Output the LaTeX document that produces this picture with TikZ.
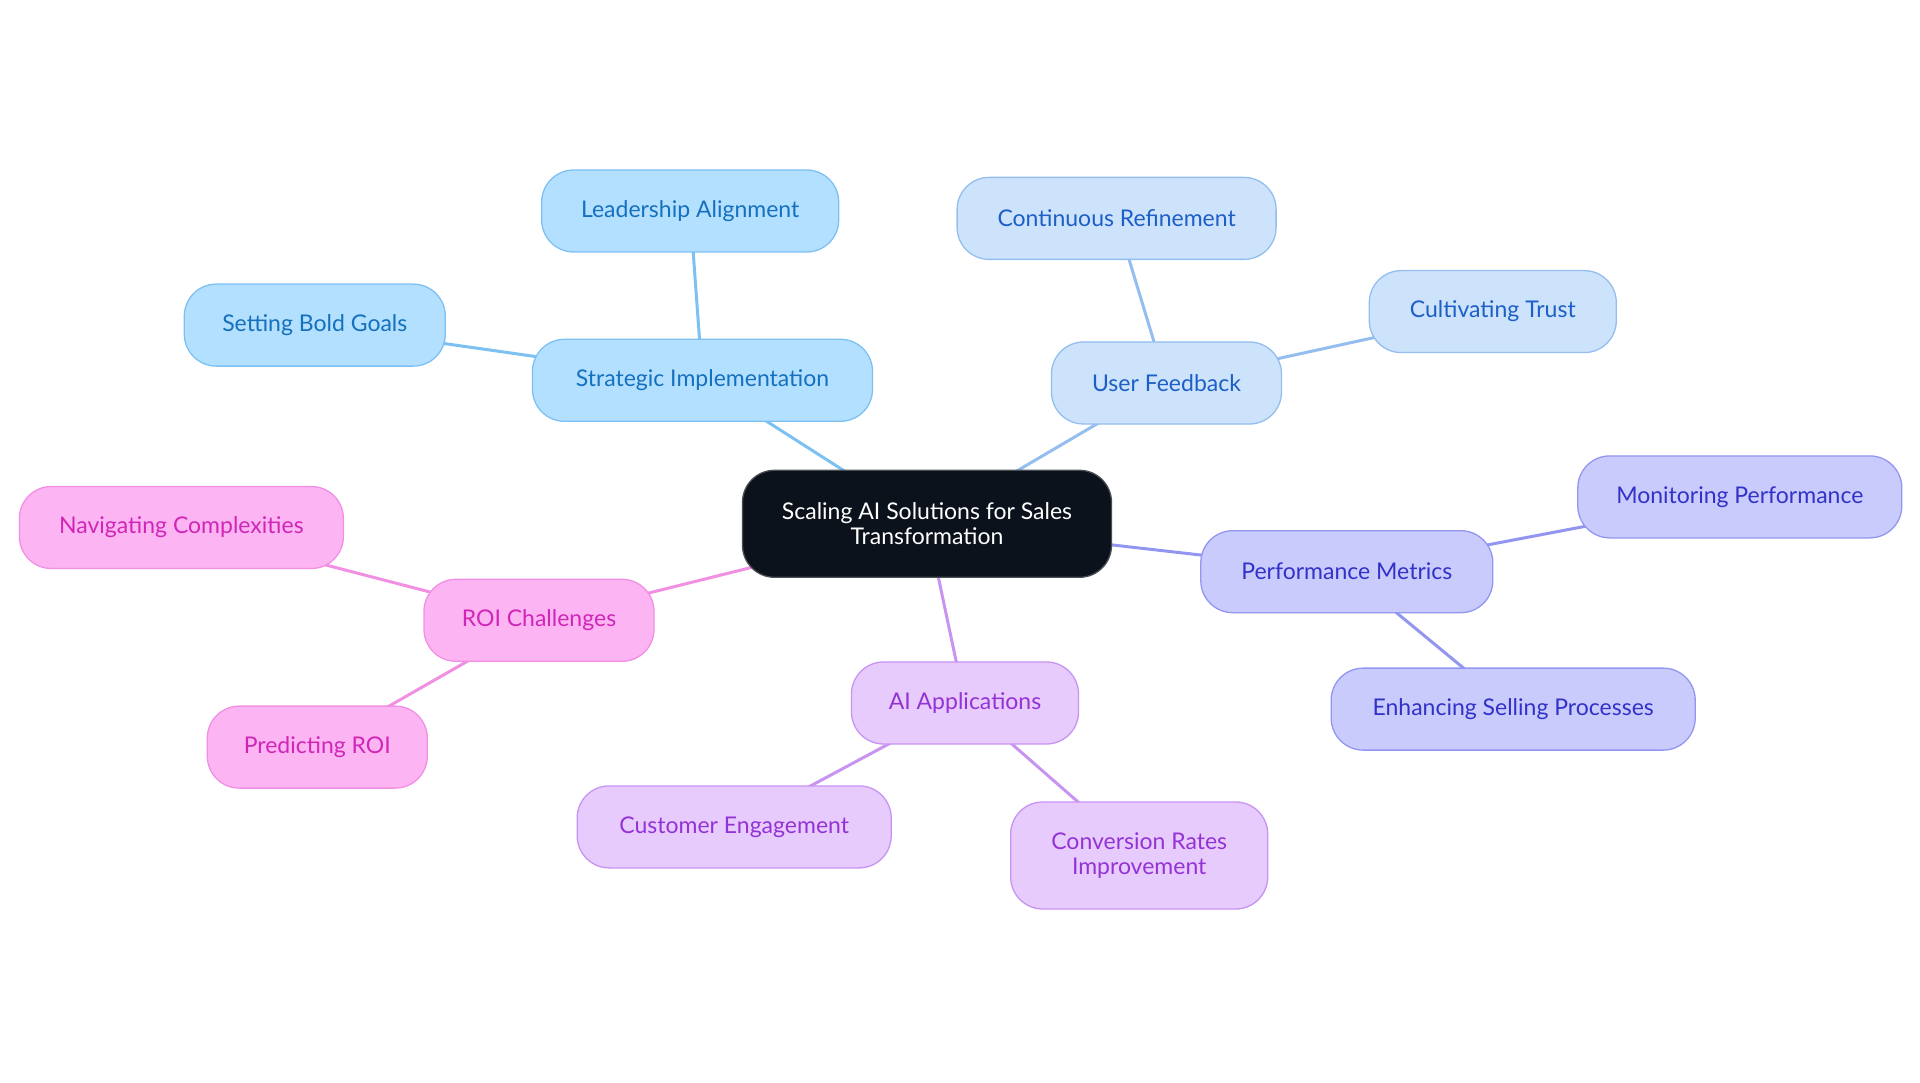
\documentclass[tikz,border=0pt]{standalone}
\usepackage{fontspec}
\setmainfont{Lato}
\usetikzlibrary{backgrounds}
\definecolor{cfill}{HTML}{0B121B}
\definecolor{cline}{HTML}{4A4F55}
\definecolor{bAfill}{HTML}{B3E0FF}
\definecolor{bAline}{HTML}{7DC1F2}
\definecolor{bAtext}{HTML}{1570BE}
\definecolor{bBfill}{HTML}{CCE3FB}
\definecolor{bBline}{HTML}{93BEEF}
\definecolor{bBtext}{HTML}{1D5FC6}
\definecolor{inFill}{HTML}{C9CBFD}
\definecolor{inLine}{HTML}{9396F1}
\definecolor{inText}{HTML}{3232C8}
\definecolor{puFill}{HTML}{E8CBFD}
\definecolor{puLine}{HTML}{C894F1}
\definecolor{puText}{HTML}{9333D6}
\definecolor{piFill}{HTML}{FDB4F2}
\definecolor{piLine}{HTML}{F190E3}
\definecolor{piText}{HTML}{D026B8}
\newcommand{\lblfont}{\fontsize{23}{25}\selectfont}
\tikzset{
  base/.style={rounded corners=32pt, line width=1.3pt, minimum height=82pt, inner sep=0pt, align=center, font=\lblfont},
  centre/.style={base, rounded corners=32pt, fill=cfill, draw=cline, text=white, minimum width=369pt, minimum height=107pt},
  blueA/.style={base, fill=bAfill, draw=bAline, text=bAtext},
  blueB/.style={base, fill=bBfill, draw=bBline, text=bBtext},
  indi/.style={base, fill=inFill, draw=inLine, text=inText},
  purp/.style={base, fill=puFill, draw=puLine, text=puText},
  pink/.style={base, fill=piFill, draw=piLine, text=piText},
  link/.style={line width=3pt},
}
\begin{document}
\begin{tikzpicture}[x=1pt,y=-1pt]
\useasboundingbox (0,0) rectangle (1920,1083);
\node[centre] (c) at (927.0,523.8) {Scaling AI Solutions for Sales\\Transformation};
\node[blueA, minimum width=340pt] (si) at (702.5,380.3) {Strategic Implementation};
\node[blueA, minimum width=297pt] (la) at (690.2,211.0) {Leadership Alignment};
\node[blueA, minimum width=261pt] (sb) at (314.8,325.1) {Setting Bold Goals};
\node[blueB, minimum width=230pt] (uf) at (1166.5,383.0) {User Feedback};
\node[blueB, minimum width=319pt] (cr) at (1116.6,218.4) {Continuous Refinement};
\node[blueB, minimum width=247pt] (ct) at (1492.8,311.6) {Cultivating Trust};
\node[indi, minimum width=292pt] (pm) at (1346.8,571.7) {Performance Metrics};
\node[indi, minimum width=324pt] (mp) at (1739.8,496.9) {Monitoring Performance};
\node[indi, minimum width=364pt] (es) at (1513.2,709.1) {Enhancing Selling Processes};
\node[purp, minimum width=227pt] (ai) at (965.0,703.0) {AI Applications};
\node[purp, minimum width=314pt] (ce) at (734.2,826.9) {Customer Engagement};
\node[purp, minimum width=257pt, minimum height=107pt] (cv) at (1139.2,855.5) {Conversion Rates\\Improvement};
\node[pink, minimum width=230pt] (roi) at (539.0,620.3) {ROI Challenges};
\node[pink, minimum width=324pt] (nc) at (181.4,527.5) {Navigating Complexities};
\node[pink, minimum width=220pt] (pr) at (317.3,747.1) {Predicting ROI};
\begin{scope}[on background layer]
\draw[link, bAline] (c.center) -- (si.center);
\draw[link, bAline] (si.center) -- (la.center);
\draw[link, bAline] (si.center) -- (sb.center);
\draw[link, bBline] (c.center) -- (uf.center);
\draw[link, bBline] (uf.center) -- (cr.center);
\draw[link, bBline] (uf.center) -- (ct.center);
\draw[link, inLine] (c.center) -- (pm.center);
\draw[link, inLine] (pm.center) -- (mp.center);
\draw[link, inLine] (pm.center) -- (es.center);
\draw[link, puLine] (c.center) -- (ai.center);
\draw[link, puLine] (ai.center) -- (ce.center);
\draw[link, puLine] (ai.center) -- (cv.center);
\draw[link, piLine] (c.center) -- (roi.center);
\draw[link, piLine] (roi.center) -- (nc.center);
\draw[link, piLine] (roi.center) -- (pr.center);
\end{scope}
\end{tikzpicture}
\end{document}
